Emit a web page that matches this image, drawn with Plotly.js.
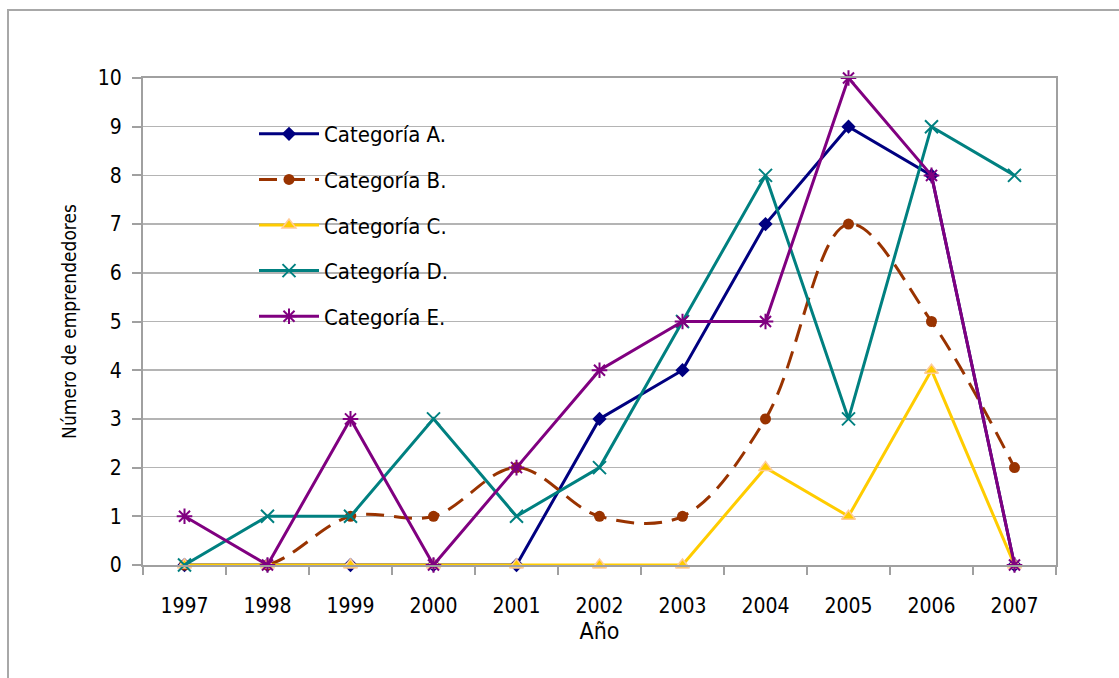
<!DOCTYPE html>
<html>
<head>
<meta charset="utf-8">
<script src="https://cdn.plot.ly/plotly-3.0.1.min.js"></script>
<style>
html,body{margin:0;padding:0;background:#fff;}
#chart{width:1119px;height:678px;}
</style>
</head>
<body>
<div id="chart"></div>
<script>
const years = ["1997","1998","1999","2000","2001","2002","2003","2004","2005","2006","2007"];
const catA = [0,0,0,0,0,3,4,7,9,8,0];
const catB = [0,0,1,1,2,1,1,3,7,5,2];
const catC = [0,0,0,0,0,0,0,2,1,4,0];
const catD = [0,1,1,3,1,2,5,8,3,9,8];
const catE = [1,0,3,0,2,4,5,5,10,8,0];
const seriesNames = ["Categoría A.","Categoría B.","Categoría C.","Categoría D.","Categoría E."];
const yTicks = [0,1,2,3,4,5,6,7,8,9,10];

const FONT = '"Liberation Sans Narrow", "Arial Narrow", "DejaVu Sans Condensed", sans-serif';

const traces = [
  {x: years, y: catA, name: seriesNames[0], legendgroup:'a', mode:'lines+markers', cliponaxis:false, line:{color:'#000080', width:3}, marker:{symbol:'diamond', size:11, color:'#000080'}},
  {x: years, y: catB, name: seriesNames[1], legendgroup:'b', mode:'lines+markers', cliponaxis:false, line:{color:'#993300', width:3, dash:'18px,10px', shape:'spline', smoothing:1}, marker:{symbol:'circle', size:11, color:'#993300'}},
  {x: years, y: catC, name: seriesNames[2], legendgroup:'c', mode:'lines+markers', cliponaxis:false, line:{color:'#FFCC00', width:3}, marker:{symbol:'triangle-up', size:12, color:'#FFCC00', line:{color:'#FFCC99', width:1.5}}},
  {x: years, y: catD, name: seriesNames[3], legendgroup:'d', mode:'lines+markers', cliponaxis:false, line:{color:'#008080', width:3}, marker:{symbol:'x-thin-open', size:13, color:'#008080', line:{color:'#008080', width:2}}},
  {x: years, y: catE, name: seriesNames[4], legendgroup:'e', mode:'lines+markers', cliponaxis:false, line:{color:'#800080', width:3}, marker:{symbol:'asterisk-open', size:13, color:'#800080', line:{color:'#800080', width:2}}}
];

const W = 1119, H = 678;
const mL = 143, mR = 63, mT = 78, mB = 113;
const pw = W - mL - mR, ph = H - mT - mB;
const px = v => (v - mL) / pw;
const py = v => (H - mB - v) / ph;

const layout = {
  width: W, height: H,
  margin: {l: mL, r: mR, t: mT, b: mB, pad: 0},
  paper_bgcolor: '#ffffff',
  plot_bgcolor: '#ffffff',
  font: {family: FONT, color: '#000000', size: 21},
  showlegend: true,
  legend: {
    x: px(254), y: py(113), xanchor: 'left', yanchor: 'top',
    bgcolor: 'rgba(255,255,255,0)',
    font: {family: FONT, size: 22, color: '#000'},
    tracegroupgap: 14,
    traceorder: 'grouped',
    itemwidth: 60
  },
  xaxis: {
    type: 'category',
    range: [-0.5, years.length - 0.5],
    tickson: 'boundaries',
    ticks: 'outside', ticklen: 8, tickcolor: '#a0a0a0', tickwidth: 2,
    ticklabelstandoff: 21,
    showline: true, linecolor: '#a0a0a0', linewidth: 2, mirror: true,
    showgrid: false, zeroline: false,
    tickfont: {family: FONT, size: 21, color: '#000'},
    title: {text: 'Año', font: {family: FONT, size: 23, color: '#000'}, standoff: 2},
    fixedrange: true
  },
  yaxis: {
    range: [0, 10],
    tickvals: yTicks,
    ticks: 'outside', ticklen: 9, tickcolor: '#a0a0a0', tickwidth: 2,
    ticklabelstandoff: 6,
    showline: true, linecolor: '#a0a0a0', linewidth: 2, mirror: true,
    showgrid: true, gridcolor: '#b4b4b4', gridwidth: 1.5,
    zeroline: false,
    tickfont: {family: FONT, size: 21, color: '#000'},
    title: {text: 'Número de emprendedores', font: {family: FONT, size: 19, color: '#000'}, standoff: 16},
    fixedrange: true
  },
  shapes: [
    {type:'rect', xref:'paper', yref:'paper', layer:'between',
     x0: px(145), x1: px(508), y0: py(345), y1: py(100),
     fillcolor:'#ffffff', line:{width:0}},
    {type:'rect', xref:'paper', yref:'paper', layer:'below',
     x0: px(8), x1: px(1140), y0: py(700), y1: py(10),
     fillcolor:'rgba(0,0,0,0)', line:{color:'#a8a8a8', width:2}}
  ]
};

Plotly.newPlot('chart', traces, layout, {displayModeBar: false, staticPlot: true});
</script>
</body>
</html>
